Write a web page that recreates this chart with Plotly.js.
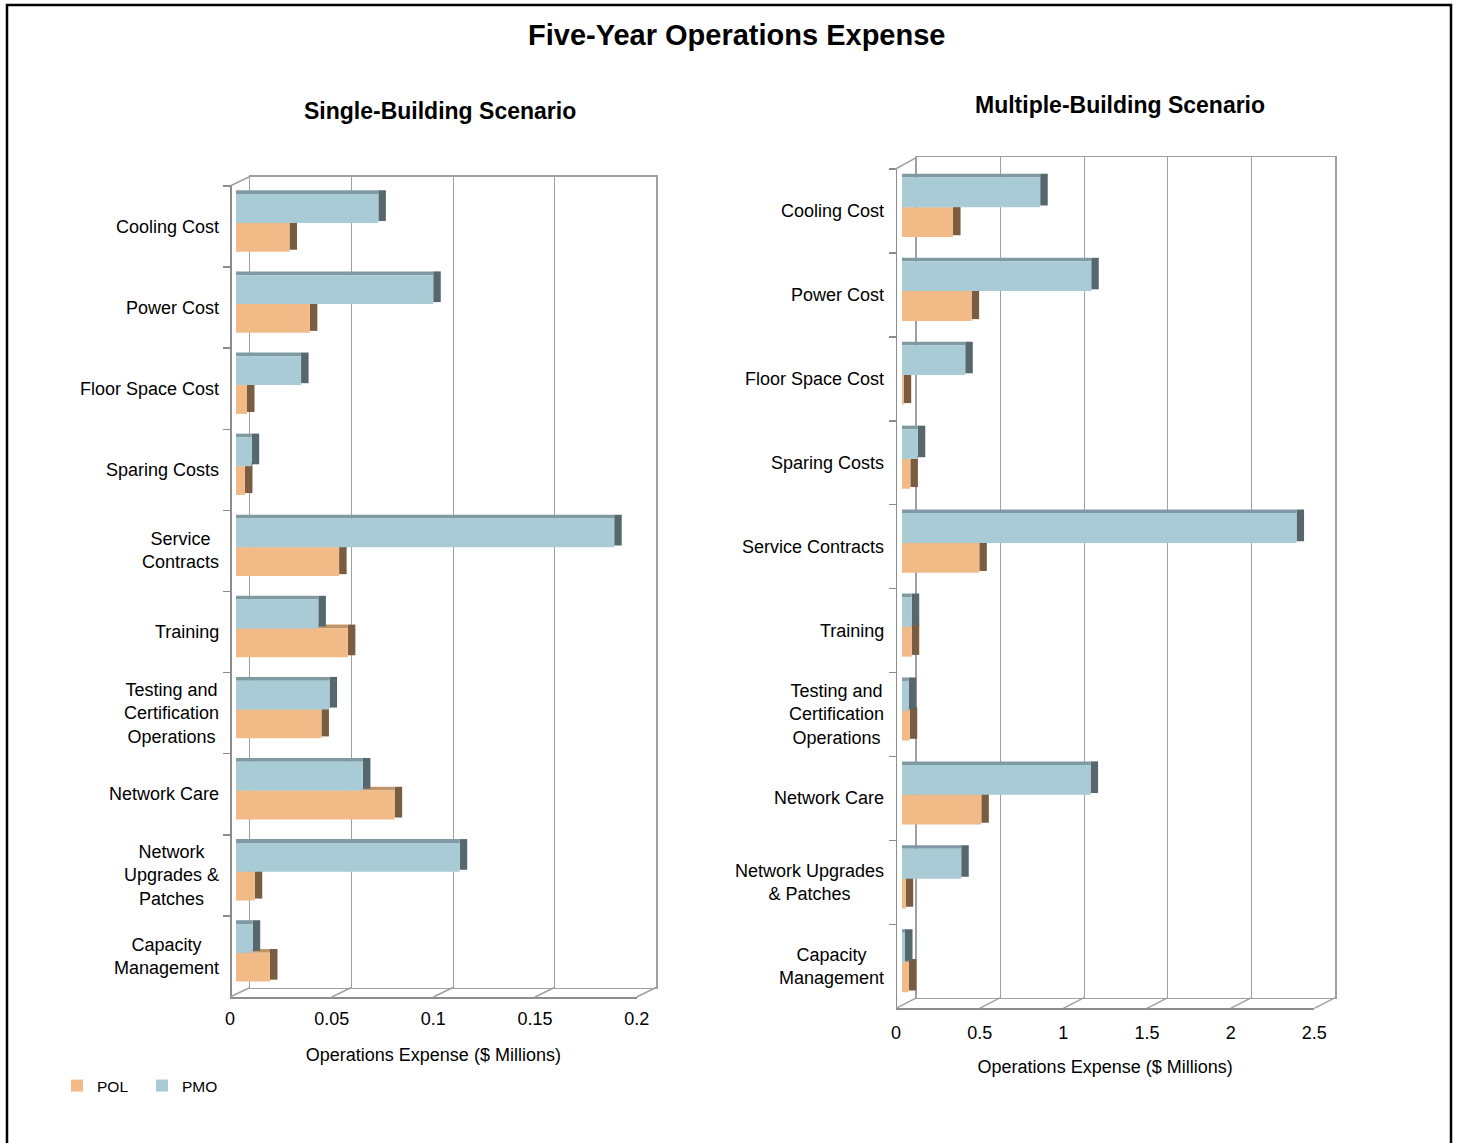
<!DOCTYPE html>
<html>
<head>
<meta charset="utf-8">
<script src="https://cdn.plot.ly/plotly-3.0.1.min.js"></script>
<style>html,body{margin:0;padding:0;background:#fff;}#chart{width:1460px;height:1143px;}</style>
</head>
<body>
<div id="chart"></div>
<script>
// ---------------- DATA ----------------
const catsSingle = ["Cooling Cost", "Power Cost", "Floor Space Cost", "Sparing Costs", "Service<br>Contracts", "Training", "Testing and<br>Certification<br>Operations", "Network Care", "Network<br>Upgrades &<br>Patches", "Capacity<br>Management"];
const pmoSingle = [0.070, 0.097, 0.032, 0.0077, 0.186, 0.0405, 0.046, 0.0624, 0.110, 0.0082];
const polSingle = [0.0263, 0.0363, 0.0054, 0.0044, 0.0507, 0.055, 0.042, 0.078, 0.0092, 0.0167];

const catsMulti = ["Cooling Cost", "Power Cost", "Floor Space Cost", "Sparing Costs", "Service Contracts", "Training", "Testing and<br>Certification<br>Operations", "Network Care", "Network Upgrades<br>& Patches", "Capacity<br>Management"];
const pmoMulti = [0.826, 1.131, 0.378, 0.094, 2.358, 0.058, 0.040, 1.127, 0.354, 0.018];
const polMulti = [0.305, 0.416, 0.010, 0.050, 0.462, 0.058, 0.046, 0.474, 0.022, 0.040];

const ticksSingle = [0, 0.05, 0.1, 0.15, 0.2];
const tickTextSingle = ["0", "0.05", "0.1", "0.15", "0.2"];
const ticksMulti = [0, 0.5, 1, 1.5, 2, 2.5];
const tickTextMulti = ["0", "0.5", "1", "1.5", "2", "2.5"];

const mainTitle = "Five-Year Operations Expense";
const subTitleSingle = "Single-Building Scenario";
const subTitleMulti = "Multiple-Building Scenario";
const xTitle = "Operations Expense ($ Millions)";
const seriesNames = ["POL", "PMO"];

// ---------------- STYLE / GEOMETRY ----------------
const W = 1460, H = 1143;
const FONT = "Liberation Sans, Arial, sans-serif";
const px = v => v / W;
const py = v => 1 - v / H;
const colPMO = {front: "#a9cbd5", top: "#7f9aa3", side: "#56676e"};
const colPOL = {front: "#f1ba87", top: "#c0956a", side: "#7a5c40"};
const axisGrey = "#8c8c8c";
const gridGrey = "#a0a0a0";

const panels = [
  { // single building
    wall: {l: 250, r: 656, t: 176.5, b: 987.5},
    bars: {l: 236, r: 642.7},
    cat: {t: 186, b: 997},
    axisX: 230, front: {l: 230, r: 636.7}, base: 997,
    xmax: 0.2, d: 0.0037, s: 0.047,
    cats: catsSingle, pmo: pmoSingle, pol: polSingle,
    ticks: ticksSingle, tickText: tickTextSingle,
    ax: {wx: "x", wy: "y", bx: "x2", by: "y2", fx: "x3"},
    labelRight: 221, legend: true, tickStandoff: 5, titleStandoff: 20
  },
  { // multiple building
    wall: {l: 916.7, r: 1335.3, t: 157.3, b: 997.7},
    bars: {l: 902, r: 1320.3},
    cat: {t: 169, b: 1008.3},
    axisX: 895.5, front: {l: 896, r: 1314.3}, base: 1008.3,
    xmax: 2.5, d: 0.045, s: 0.042,
    cats: catsMulti, pmo: pmoMulti, pol: polMulti,
    ticks: ticksMulti, tickText: tickTextMulti,
    ax: {wx: "x4", wy: "y4", bx: "x5", by: "y5", fx: "x6"},
    labelRight: 886, legend: false, tickStandoff: 8, titleStandoff: 18
  }
];

const OFF_PMO = -0.40, OFF_POL = -0.045, BW = 0.355;

function barTraces(values, name, col, off, p, showlegend) {
  const depth = values.map(() => p.d);
  const common = {type: "bar", orientation: "h", y: p.cats, xaxis: p.ax.bx, yaxis: p.ax.by, hoverinfo: "skip"};
  return [
    Object.assign({}, common, {x: depth, base: values, offset: off - p.s, width: BW + p.s * 0.5, marker: {color: col.side, line: {width: 0}}, showlegend: false}),
    Object.assign({}, common, {x: values, offset: off - p.s, width: p.s, marker: {color: col.top, line: {width: 0}}, showlegend: false}),
    Object.assign({}, common, {x: values, offset: off, width: BW, marker: {color: col.front, line: {width: 0}}, name: name, showlegend: showlegend, legendgroup: name})
  ];
}

const traces = [];
const layout = {
  width: W, height: H,
  margin: {l: 0, r: 0, t: 0, b: 0},
  paper_bgcolor: "#ffffff",
  plot_bgcolor: "rgba(0,0,0,0)",
  font: {family: FONT, color: "#000", size: 18},
  barmode: "overlay",
  showlegend: true,
  legend: {orientation: "h", x: px(57), y: py(1086), xanchor: "left", yanchor: "middle",
           font: {family: FONT, size: 15.5, color: "#000"}, bgcolor: "rgba(0,0,0,0)",
           entrywidth: 40, entrywidthmode: "pixels", itemwidth: 30},
  annotations: [],
  shapes: []
};

function axName(a) { return a.replace(/^x/, "xaxis").replace(/^y/, "yaxis"); }

panels.forEach(p => {
  const a = p.ax;
  // back wall (gridlines + frame)
  traces.push({type: "scatter", mode: "markers", x: [null], y: [null], xaxis: a.wx, yaxis: a.wy, showlegend: false, hoverinfo: "skip"});
  layout[axName(a.wx)] = {domain: [px(p.wall.l), px(p.wall.r)], range: [0, p.xmax], anchor: a.wy,
    tickvals: p.ticks, showgrid: true, gridcolor: gridGrey, gridwidth: 1, showline: true, mirror: true,
    linecolor: gridGrey, linewidth: 1.5, showticklabels: false, ticks: "", zeroline: false, fixedrange: true};
  layout[axName(a.wy)] = {domain: [py(p.wall.b), py(p.wall.t)], range: [0, 1], anchor: a.wx,
    showgrid: false, showline: true, mirror: true, linecolor: gridGrey, linewidth: 1.5,
    showticklabels: false, ticks: "", zeroline: false, fixedrange: true};

  // bars
  traces.push(...barTraces(p.pol, seriesNames[0], colPOL, OFF_POL, p, p.legend));
  traces.push(...barTraces(p.pmo, seriesNames[1], colPMO, OFF_PMO, p, p.legend));
  layout[axName(a.bx)] = {domain: [px(p.bars.l), px(p.bars.r)], range: [0, p.xmax], anchor: a.by,
    visible: false, fixedrange: true};
  layout[axName(a.by)] = {domain: [py(p.cat.b), py(p.cat.t)], type: "category", categoryarray: p.cats,
    categoryorder: "array", range: [p.cats.length - 0.5, -0.5], anchor: "free", position: px(p.axisX), side: "left",
    showline: true, linecolor: axisGrey, linewidth: 1.5, ticks: "outside", tickson: "boundaries", ticklen: 7,
    tickcolor: axisGrey, tickwidth: 1.5, showticklabels: false, showgrid: false, zeroline: false, fixedrange: true};

  // front axis with tick labels
  traces.push({type: "scatter", mode: "markers", x: [null], y: [null], xaxis: a.fx, yaxis: a.by, showlegend: false, hoverinfo: "skip"});
  layout[axName(a.fx)] = {domain: [px(p.front.l), px(p.front.r)], range: [0, p.xmax], anchor: "free", position: py(p.base),
    tickvals: p.ticks, ticktext: p.tickText, ticks: "", showline: true, linecolor: axisGrey, linewidth: 1.5,
    showgrid: false, zeroline: false, tickfont: {family: FONT, size: 18, color: "#000"}, ticklabelstandoff: p.tickStandoff,
    title: {text: xTitle, font: {family: FONT, size: 18, color: "#000"}, standoff: p.titleStandoff}, fixedrange: true};

  // floor diagonals
  p.ticks.forEach(v => {
    const x0 = p.front.l + v / p.xmax * (p.front.r - p.front.l);
    const x1 = p.wall.l + v / p.xmax * (p.wall.r - p.wall.l);
    layout.shapes.push({type: "line", xref: "paper", yref: "paper", x0: px(x0), y0: py(p.base), x1: px(x1), y1: py(p.wall.b),
      line: {color: gridGrey, width: 1.5}});
  });
  layout.shapes.push({type: "line", xref: "paper", yref: "paper", x0: px(p.axisX), y0: py(p.cat.t), x1: px(p.wall.l), y1: py(p.wall.t),
    line: {color: gridGrey, width: 1.5}});

  // category labels
  p.cats.forEach(c => {
    layout.annotations.push({text: c, xref: "paper", yref: a.by, x: px(p.labelRight), y: c, xanchor: "right", yanchor: "middle",
      align: "center", showarrow: false, font: {family: FONT, size: 18, color: "#000"}});
  });
});

// titles
layout.annotations.push({text: "<b>" + mainTitle + "</b>", xref: "paper", yref: "paper", x: px(736), y: py(35),
  xanchor: "center", yanchor: "middle", showarrow: false, font: {family: FONT, size: 29, color: "#000"}});
layout.annotations.push({text: "<b>" + subTitleSingle + "</b>", xref: "paper", yref: "paper", x: px(440), y: py(111),
  xanchor: "center", yanchor: "middle", showarrow: false, font: {family: FONT, size: 23, color: "#000"}});
layout.annotations.push({text: "<b>" + subTitleMulti + "</b>", xref: "paper", yref: "paper", x: px(1120), y: py(105),
  xanchor: "center", yanchor: "middle", showarrow: false, font: {family: FONT, size: 23, color: "#000"}});

// outer frame
layout.shapes.push({type: "rect", xref: "paper", yref: "paper", x0: px(7), x1: px(1451), y0: -0.05, y1: py(5),
  line: {color: "#000", width: 2.5}, fillcolor: "rgba(0,0,0,0)"});

Plotly.newPlot("chart", traces, layout, {displayModeBar: false, staticPlot: true});
</script>
</body>
</html>
